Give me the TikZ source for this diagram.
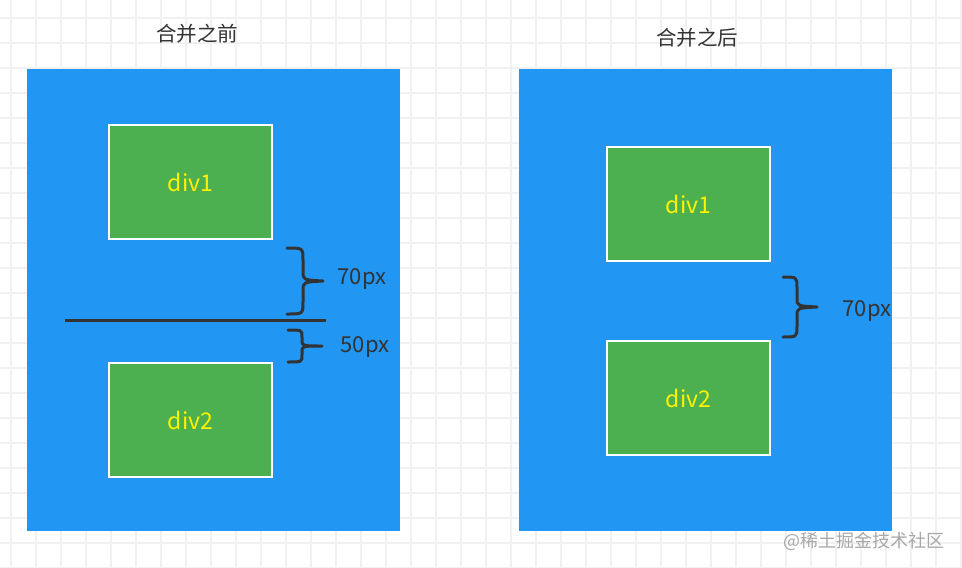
\documentclass[tikz,border=0pt]{standalone}
\usepackage{fontspec}
\setmainfont{Noto Sans CJK SC}
\definecolor{bluebg}{HTML}{2196F3}
\definecolor{greenbox}{HTML}{4CAF50}
\definecolor{darkline}{HTML}{333333}
\definecolor{gridc}{HTML}{F1F1F1}
\definecolor{wm}{HTML}{A8A8A8}
\tikzset{
  container/.style={fill=bluebg, draw=none, minimum width=373pt, minimum height=462pt, inner sep=0pt},
  divbox/.style={fill=greenbox, draw=white, line width=2pt, minimum width=163pt, minimum height=114pt, inner sep=0pt, text=yellow, font=\fontsize{23}{27}\selectfont},
  title/.style={text=darkline, font=\fontsize{20.5}{24}\selectfont, inner sep=0pt},
  pxlabel/.style={text=darkline, font=\fontsize{22}{26}\selectfont, inner sep=0pt},
  bracestyle/.style={draw=darkline, line width=3pt, line cap=round, line join=round},
  gridline/.style={draw=gridc, line width=1.1pt},
}
\begin{document}
\begin{tikzpicture}[x=1pt,y=-1pt]
\useasboundingbox (0,0) rectangle (962,568);
\fill[white] (0,0) rectangle (962,568);
% grid
\foreach \gx in {11,36,...,961} { \draw[gridline] (\gx,0) -- (\gx,568); }
\foreach \gy in {18,43,...,568} { \draw[gridline] (0,\gy) -- (962,\gy); }
% titles
\node[title] (t1) at (197,34) {合并之前};
\node[title] (t2) at (697,38) {合并之后};
% containers
\node[container] (c1) at (213.5,300) {};
\node[container] (c2) at (705.5,300) {};
% boxes
\node[divbox] (a1) at (190.5,182) {div1};
\node[divbox] (a2) at (190.5,420) {div2};
\node[divbox] (b1) at (688.5,204) {div1};
\node[divbox] (b2) at (688.5,398) {div2};
% separator line
\coordinate (l1) at (65,320);
\coordinate (l2) at (326,320);
\draw[draw=darkline, line width=3pt] (l1) -- (l2);
% braces
\draw[bracestyle] (287,248) .. controls (303,248) .. (303,260) -- (303,271)
  .. controls (303,280) .. (323,281)
  .. controls (303,282) .. (303,291) -- (303,302)
  .. controls (303,314) .. (287,314);
\draw[bracestyle] (288,330) .. controls (302,330) .. (302,337) -- (302,340)
  .. controls (302,346) .. (322,346)
  .. controls (302,346) .. (302,352) -- (302,355)
  .. controls (302,362) .. (288,362);
\draw[bracestyle] (783,277) .. controls (797,277) .. (797,288) -- (797,298)
  .. controls (797,306) .. (817,307)
  .. controls (797,308) .. (797,316) -- (797,326)
  .. controls (797,337) .. (783,337);
% labels
\node[pxlabel] (p1) at (362,279) {70px};
\node[pxlabel] (p2) at (365,347) {50px};
\node[pxlabel] (p3) at (867,311) {70px};
% watermark
\node[text=wm, font=\fontsize{18}{22}\selectfont, inner sep=0pt] (w) at (864,541) {@稀土掘金技术社区};
\end{tikzpicture}
\end{document}
